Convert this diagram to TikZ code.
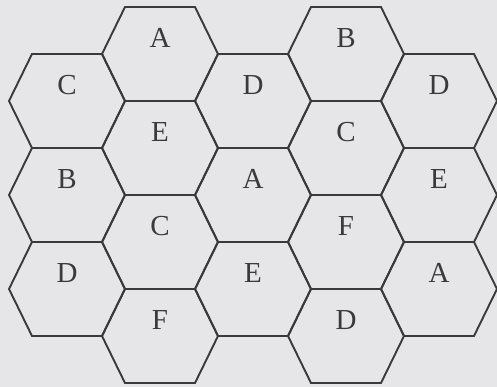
\documentclass[tikz,border=0pt]{standalone}
\usepackage{fontspec}
\setmainfont{Liberation Serif}
\definecolor{paper}{HTML}{E6E6E8}
\definecolor{ink}{HTML}{3A3A3A}
\tikzset{
  cellline/.style={draw=ink, line width=1.9pt, line join=miter},
  celltext/.style={text=ink, font=\fontsize{29}{29}\selectfont, inner sep=0pt},
}
\begin{document}
\begin{tikzpicture}[x=1pt,y=1pt]
    \fill[paper] (0,0) rectangle (497,387);
    \useasboundingbox (0,0) rectangle (497,387);
    % cells: column / row / label
    \foreach \c/\r/\t in {0/1/C, 0/3/B, 0/5/D,
                          1/0/A, 1/2/E, 1/4/C, 1/6/F,
                          2/1/D, 2/3/A, 2/5/E,
                          3/0/B, 3/2/C, 3/4/F, 3/6/D,
                          4/1/D, 4/3/E, 4/5/A} {
      \pgfmathsetmacro{\cx}{67+93*\c}
      \pgfmathsetmacro{\cy}{333-47*\r}
      \draw[cellline] (\cx-35,\cy+47) -- (\cx+35,\cy+47) -- (\cx+58,\cy)
        -- (\cx+35,\cy-47) -- (\cx-35,\cy-47) -- (\cx-58,\cy) -- cycle;
      \node[celltext] (cell-\c-\r) at (\cx,\cy+16) {\t};
    }
\end{tikzpicture}
\end{document}
